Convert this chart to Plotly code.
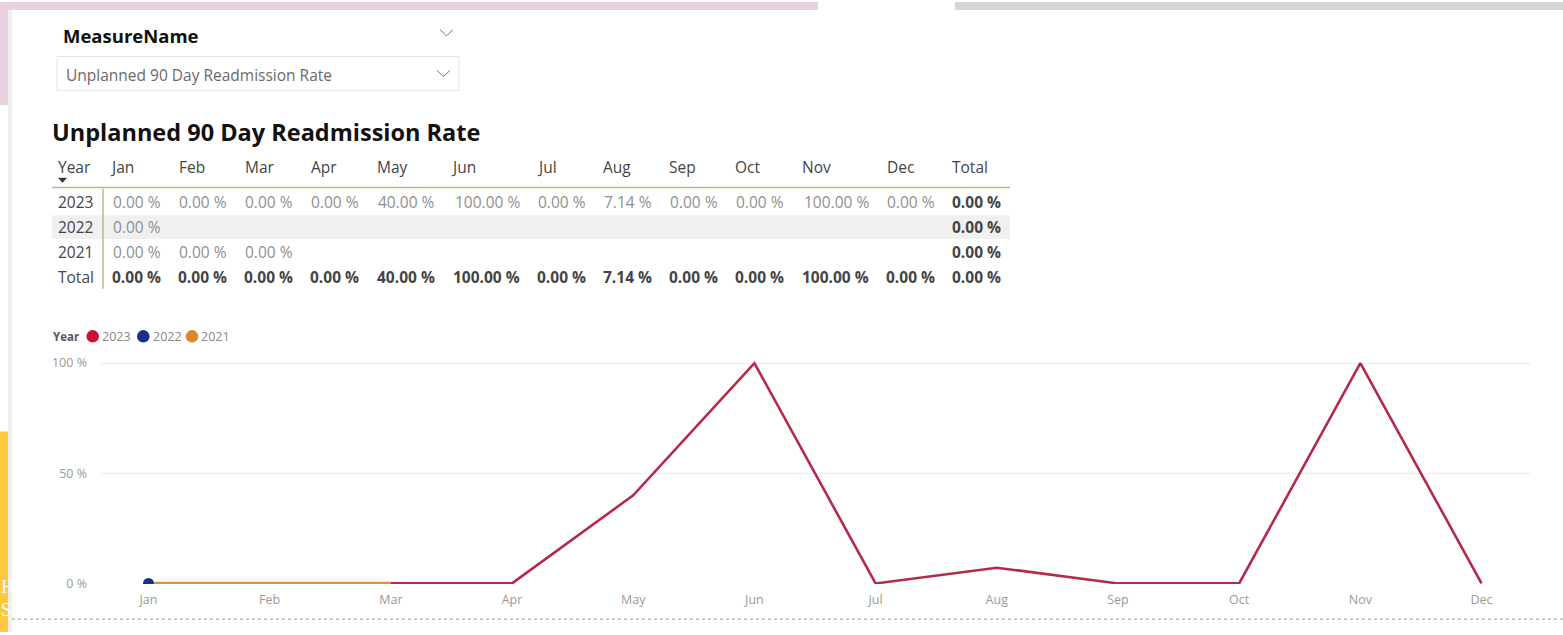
import plotly.graph_objects as go

# ---------------- data ----------------
months = ["Jan", "Feb", "Mar", "Apr", "May", "Jun", "Jul", "Aug", "Sep", "Oct", "Nov", "Dec"]
years = ["2023", "2022", "2021"]
rate_2023 = [0, 0, 0, 0, 40, 100, 0, 7.14, 0, 0, 100, 0]
rate_2022 = [0, None, None, None, None, None, None, None, None, None, None, None]
rate_2021 = [0, 0, 0, None, None, None, None, None, None, None, None, None]
row_totals = [0, 0, 0]
col_totals = [0, 0, 0, 0, 40, 100, 0, 7.14, 0, 0, 100, 0]
grand_total = 0
y_ticks = [0, 50, 100]
y_ticktext = ["0 %", "50 %", "100 %"]
measure_title = "Unplanned 90 Day Readmission Rate"

W, H = 1563, 635          # reference pixel frame
FIG_H = 640               # figure height (compensates a slight vertical squeeze)
FONT = "Open Sans, Noto Sans, sans-serif"


def px(x):
    return x / W


def py(y):
    return 1 - y / H


def fmt(v):
    return "" if v is None else f"{v:.2f} %"


fig = go.Figure()

# ---------------- line chart ----------------
fig.add_trace(go.Scatter(x=months, y=rate_2023, mode="lines", name="2023",
                         line=dict(color="#B42A48", width=2.6), showlegend=False))
fig.add_trace(go.Scatter(x=months, y=rate_2021, mode="lines", name="2021",
                         line=dict(color="#D9953F", width=3.2), showlegend=False))
fig.add_trace(go.Scatter(x=months, y=rate_2022, mode="markers", name="2022",
                         marker=dict(color="#1A2F8A", size=11), showlegend=False))

fig.update_layout(
    width=W, height=FIG_H, margin=dict(l=0, r=0, t=0, b=0),
    paper_bgcolor="white", plot_bgcolor="white",
    font=dict(family=FONT),
    xaxis=dict(domain=[px(100), px(1530)], range=[-0.4, 11.4], showgrid=False,
               showline=False, zeroline=False, ticks="",
               tickfont=dict(size=12.5, color="#9a9a9a", family=FONT),
               ticklabelstandoff=6),
    yaxis=dict(domain=[py(586.7), py(357.3)], range=[-0.3, 103], tickvals=y_ticks,
               ticktext=y_ticktext, showgrid=True, gridcolor="#ececec", gridwidth=1,
               zeroline=False, showline=False, ticks="",
               tickfont=dict(size=12.5, color="#9a9a9a", family=FONT),
               ticklabelstandoff=12),
    showlegend=False,
)

shapes = []
ann = []

# ---------------- background decoration ----------------
shapes += [
    dict(type="rect", xref="paper", yref="paper", x0=px(0), x1=px(818), y0=py(8), y1=py(0),
         fillcolor="#E6D3DF", line_width=0, layer="below"),
    dict(type="rect", xref="paper", yref="paper", x0=px(955), x1=px(1563), y0=py(8), y1=py(0),
         fillcolor="#D5D5D5", line_width=0, layer="below"),
    dict(type="rect", xref="paper", yref="paper", x0=px(0), x1=px(10), y0=py(104), y1=py(0),
         fillcolor="#E6D3DF", line_width=0, layer="below"),
    dict(type="rect", xref="paper", yref="paper", x0=px(0), x1=px(8), y0=py(635), y1=py(433),
         fillcolor="#FFC83D", line_width=0, layer="below"),
    dict(type="rect", xref="paper", yref="paper", x0=px(8), x1=px(12), y0=py(635), y1=py(8),
         fillcolor="#EFEFEF", line_width=0, layer="below"),
    dict(type="line", xref="paper", yref="paper", x0=px(12), x1=px(1563), y0=py(622), y1=py(622),
         line=dict(color="#9a9a9a", width=1, dash="dot")),
]

# ---------------- slicer ----------------
ann.append(dict(text="<b>MeasureName</b>", x=px(61), y=py(34), xref="paper", yref="paper",
                xanchor="left", yanchor="middle", showarrow=False,
                font=dict(size=18.5, color="#111", family=FONT)))
shapes.append(dict(type="rect", xref="paper", yref="paper", x0=px(57), x1=px(459),
                   y0=py(89), y1=py(55), line=dict(color="#E4E4E4", width=1),
                   fillcolor="rgba(0,0,0,0)"))
ann.append(dict(text=measure_title, x=px(64), y=py(74), xref="paper", yref="paper",
                xanchor="left", yanchor="middle", showarrow=False,
                font=dict(size=15.5, color="#6a6a6a", family=FONT)))
for (cx, cy) in [(446.5, 31), (443.5, 72)]:
    path = (f"M {px(cx - 6.5)} {py(cy - 3)} L {px(cx)} {py(cy + 3)} "
            f"L {px(cx + 6.5)} {py(cy - 3)}")
    shapes.append(dict(type="path", xref="paper", yref="paper", path=path,
                       line=dict(color="#777", width=1)))

# ---------------- matrix table ----------------
ann.append(dict(text=f"<b>{measure_title}</b>", x=px(50), y=py(131), xref="paper", yref="paper",
                xanchor="left", yanchor="middle", showarrow=False,
                font=dict(size=23.5, color="#111", family=FONT)))

header_left = [108, 177, 243, 309, 375, 449, 535, 601, 667, 733, 800, 885]
value_right = [163, 229, 295, 361, 437, 522, 588, 654, 720, 786, 871, 937]
total_left, total_right = 950, 1003
row_y = [202, 227, 252]
total_y = 277
header_y = 166
TS = 15.5

shapes.append(dict(type="rect", xref="paper", yref="paper", x0=px(52), x1=px(1010),
                   y0=py(239), y1=py(215), fillcolor="#F0F0F0", line_width=0, layer="below"))
shapes.append(dict(type="line", xref="paper", yref="paper", x0=px(52), x1=px(1010),
                   y0=py(187), y1=py(187), line=dict(color="#A6C48C", width=1.5)))
shapes.append(dict(type="line", xref="paper", yref="paper", x0=px(103), x1=px(103),
                   y0=py(188), y1=py(289), line=dict(color="#A6C48C", width=1.5)))
shapes.append(dict(type="path", xref="paper", yref="paper",
                   path=f"M {px(58.5)} {py(177.5)} L {px(66.5)} {py(177.5)} L {px(62.5)} {py(182)} Z",
                   fillcolor="#333", line=dict(color="#333", width=0.5)))


def add_text(t, x, y, anchor, size=TS, color="#444", bold=False, family=FONT):
    ann.append(dict(text=f"<b>{t}</b>" if bold else t, x=px(x), y=py(y),
                    xref="paper", yref="paper", xanchor=anchor, yanchor="middle",
                    showarrow=False, font=dict(size=size, color=color, family=family)))


add_text("Year", 56, header_y, "left", color="#444")
for m, xl in zip(months, header_left):
    add_text(m, xl, header_y, "left", color="#444")
add_text("Total", total_left, header_y, "left", color="#444")

series_rows = [rate_2023, rate_2022, rate_2021]
for yr, vals, rt, yy in zip(years, series_rows, row_totals, row_y):
    add_text(yr, 56, yy, "left", color="#444")
    for v, xr in zip(vals, value_right):
        if v is not None:
            add_text(fmt(v), xr, yy, "right", color="#8f8f8f")
    add_text(fmt(rt), total_right, yy, "right", color="#444", bold=True)

add_text("Total", 56, total_y, "left", color="#444")
for v, xr in zip(col_totals, value_right):
    add_text(fmt(v), xr, total_y, "right", color="#444", bold=True)
add_text(fmt(grand_total), total_right, total_y, "right", color="#444", bold=True)

# ---------------- legend ----------------
add_text("Year", 51, 337, "left", size=11.5, color="#555", bold=True)
legend_items = [("2023", "#CC1136", 92.7), ("2022", "#1A2F8A", 143.3), ("2021", "#D9892B", 192)]
for name, col, cx in legend_items:
    r = 6.3
    shapes.append(dict(type="circle", xref="paper", yref="paper",
                       x0=px(cx - r), x1=px(cx + r), y0=py(337 + r), y1=py(337 - r),
                       fillcolor=col, line_width=0))
    add_text(name, cx + 7.5, 337, "left", size=12.5, color="#888")

# cut-off letters on the yellow side strip of the background page
add_text("H", -1, 589, "left", size=19, color="white", family="Liberation Serif, DejaVu Serif, serif")
add_text("S", -1, 612, "left", size=19, color="white", family="Liberation Serif, DejaVu Serif, serif")
shapes.append(dict(type="rect", xref="paper", yref="paper", x0=px(8), x1=px(12), y0=py(635),
                   y1=py(560), fillcolor="#EFEFEF", line_width=0, layer="above"))

fig.update_layout(shapes=shapes, annotations=ann)
fig.write_html("out.html", config={"displayModeBar": False},
               post_script="document.body.style.margin='0';document.body.style.overflow='hidden';")
